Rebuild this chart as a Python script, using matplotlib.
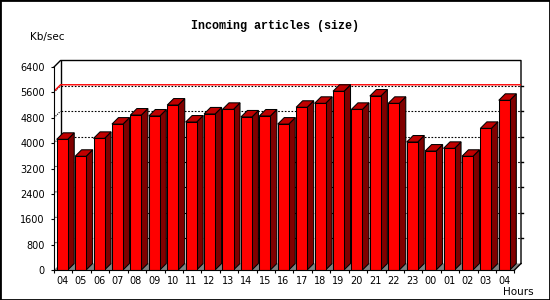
import matplotlib.pyplot as plt
from matplotlib.patches import Polygon, Rectangle

# hourly incoming article volume, Kb/sec
hours = ["04", "05", "06", "07", "08", "09", "10", "11", "12", "13", "14", "15", "16",
         "17", "18", "19", "20", "21", "22", "23", "00", "01", "02", "03", "04"]
kb_per_sec = [4120, 3585, 4150, 4600, 4885, 4855, 5200, 4665, 4920, 5065, 4825, 4855, 4600,
              5130, 5255, 5635, 5065, 5485, 5255, 4035, 3750, 3835, 3585, 4465, 5350]
y_ticks = [0, 800, 1600, 2400, 3200, 4000, 4800, 5600, 6400]

RED, SIDE, TOP, FLOOR = "#ff0000", "#800000", "#c00000", "#808080"

fig = plt.figure(figsize=(5.5, 3.0), dpi=100)
ax = fig.add_axes([54 / 550, 30 / 300, 467 / 550, 209.5 / 300])

n = len(hours)
ymax = y_ticks[-1]
dx, dy = 0.353, 205          # 3d depth offset (slots, value units)
x0, w = 0.147, 0.598         # front face offset / width inside a slot
lw = 0.75

ax.set_xlim(0, n + dx)
ax.set_ylim(0, ymax + dy)

# floor
ax.add_patch(Polygon([(0, 0), (n, 0), (n + dx, dy), (dx, dy)], closed=True,
                     fc=FLOOR, ec="none", zorder=0.5))

# back wall grid + left wall diagonals
for v in y_ticks[1:-1]:
    ax.plot([dx, n + dx], [v + dy, v + dy], color="black", lw=0.8,
            ls=(0, (1.5, 1.5)), zorder=1)
    ax.plot([0, dx], [v, v + dy], color="black", lw=0.8, ls=(0, (1, 1)), zorder=1)

# max line
peak = max(kb_per_sec)
ax.plot([0, dx, n + dx], [peak, peak + dy, peak + dy], color="red", lw=1, zorder=1.5)

# walls outline
frame = dict(color="black", lw=1, clip_on=False, zorder=1)
ax.plot([dx, dx], [dy, ymax + dy], **frame)
ax.plot([0, dx, n + dx, n + dx], [ymax, ymax + dy, ymax + dy, dy], **frame)
ax.plot([n, n + dx], [0, dy], **frame)
for v in y_ticks[1:-1]:
    ax.plot([n + dx, n + dx + 0.12], [v + dy, v + dy], **frame)

# bars
for i, v in enumerate(kb_per_sec):
    xl = i + x0
    xr = xl + w
    ax.add_patch(Polygon([(xr, 0), (xr + dx, dy), (xr + dx, v + dy), (xr, v)],
                         closed=True, fc=SIDE, ec="black", lw=lw, zorder=2))
    ax.add_patch(Polygon([(xl, v), (xl + dx, v + dy), (xr + dx, v + dy), (xr, v)],
                         closed=True, fc=TOP, ec="black", lw=lw, zorder=2))
    ax.add_patch(Rectangle((xl, 0), w, v, fc=RED, ec="black", lw=lw, zorder=2))

# axes / ticks
for s in ["top", "right"]:
    ax.spines[s].set_visible(False)
ax.spines["left"].set_bounds(0, ymax)
ax.spines["bottom"].set_bounds(0, n)
ax.spines["left"].set_zorder(3)
ax.spines["bottom"].set_zorder(3)

ax.set_yticks(y_ticks)
ax.set_yticklabels([str(v) for v in y_ticks])
ax.tick_params(axis="y", direction="out", length=2.2, width=0.8, labelsize=7, pad=4.5)

ax.set_xticks([i + x0 + w / 2 for i in range(n)])
ax.set_xticklabels(hours)
ax.set_xticks(range(n + 1), minor=True)
ax.tick_params(axis="x", which="major", length=0, labelsize=7, pad=4)
ax.tick_params(axis="x", which="minor", direction="out", length=2.2, width=0.8)

fig.text(0.5, 1 - 26 / 300, "Incoming articles (size)", ha="center", va="center",
         family="Liberation Mono", weight="bold", fontsize=8.5)
fig.text(30 / 550, 1 - 37 / 300, "Kb/sec", ha="left", va="center", fontsize=7.5)
fig.text(534 / 550, 1 - 292 / 300, "Hours", ha="right", va="center", fontsize=7.5)

fig.add_artist(Rectangle((0, 0), 1, 1, transform=fig.transFigure, fill=False,
                         ec="black", lw=2))

fig.savefig("out.png", dpi=100)
